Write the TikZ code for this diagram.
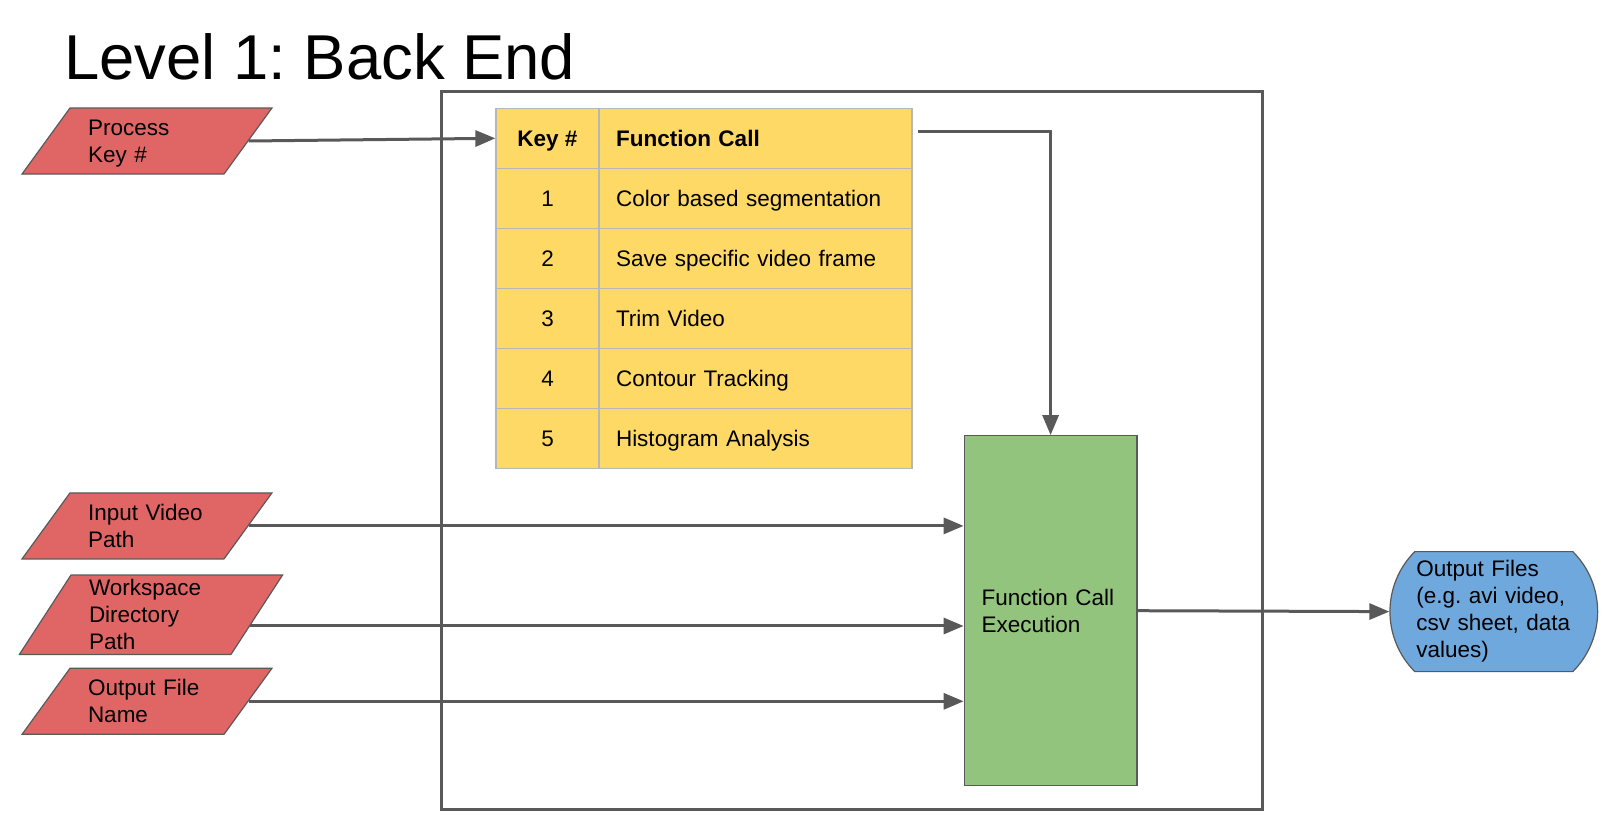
\documentclass[tikz,border=0pt]{standalone}
\usepackage{fontspec}
\setmainfont{Liberation Sans}
\usetikzlibrary{shapes.geometric,shapes.misc,arrows.meta,calc}
\frenchspacing

\definecolor{inred}{HTML}{E06666}
\definecolor{keyyellow}{HTML}{FFD966}
\definecolor{execgreen}{HTML}{93C47D}
\definecolor{outblue}{HTML}{6FA8DC}
\definecolor{edgegray}{HTML}{595959}
\definecolor{gridgray}{HTML}{B7B7B7}

\newcommand{\instrut}{\rule[-5.5pt]{0pt}{27pt}}

\begin{document}
\begin{tikzpicture}[x=1pt,y=-1pt,
  every node/.style={font=\fontsize{22.5}{27}\selectfont},
  indata/.style={trapezium, trapezium left angle=54, trapezium right angle=126,
    draw=edgegray, fill=inred, line width=1.2pt, inner xsep=18pt, inner ysep=6pt,
    text width=118pt, align=left, execute at begin node=\instrut, execute at end node=\instrut},
  cell/.style={draw=gridgray, fill=keyyellow, line width=1.2pt, minimum height=60pt,
    inner sep=0pt, text height=16.1pt, text depth=0pt},
  flow/.style={edgegray, line width=3pt, -{Triangle[length=20pt,width=16pt]}}]
 	\useasboundingbox (0,0) rectangle (1614,830);
 	\node[anchor=base west, inner sep=0pt, font=\fontsize{63.4}{70}\selectfont] (title) at (64,79.3) {Level 1: Back End};
 	\node[draw=edgegray, line width=3pt, minimum width=821.7pt, minimum height=717.3pt, inner sep=0pt] (backend) at (851.85,450.35) {};
 	\foreach \k/\fn [count=\r from 0] in {{\textbf{Key \#}}/{\textbf{Function Call}}, 1/Color based segmentation, 2/Save specific video frame, 3/Trim Video, 4/Contour Tracking, 5/Histogram Analysis} {
 	  \node[cell, minimum width=103pt] (key\r) at (547.5,{138.3+60*\r}) {\k};
 	  \node[cell, minimum width=313pt, text width=279pt, inner xsep=17pt, align=left] (fn\r) at (755.5,{138.3+60*\r}) {\fn};
 	}
 	\node[indata] (pkey) at (147,141) {Process\\Key \#};
 	\node[indata] (invid) at (147,525.9) {Input Video\\Path};
 	\node[indata, trapezium left angle=57, trapezium right angle=123, text width=124pt, inner ysep=-0.8pt] (wsdir) at (151,614.7) {Workspace\\Directory\\Path};
 	\node[indata] (outname) at (147,701.3) {Output File\\Name};
 	\node[draw=edgegray, fill=execgreen, line width=1.2pt, minimum width=172.7pt, minimum height=350pt, text width=138pt, inner xsep=17pt, align=left] (exec) at (1050.6,610.7) {Function Call\\Execution};
 	\node[rounded rectangle, rounded rectangle arc length=90, draw=edgegray, fill=outblue, line width=1.2pt, minimum width=207.7pt, minimum height=120pt, text width=155pt, inner xsep=0pt, align=left] (outfiles) at (1493.8,611.6) {Output Files\\(e.g. avi video,\\csv sheet, data\\values)};
 	\coordinate (wsout) at ($(wsdir.top right corner)!0.64!(wsdir.bottom right corner)$);
 	\draw[flow] (pkey.east) -- (key0.west);
 	\draw[flow] ([xshift=5pt,yshift=6.6pt]fn0.east) -| (exec.north);
 	\draw[flow] (invid.east) -- (invid.east -| exec.west);
 	\draw[flow] (wsout) -- (wsout -| exec.west);
 	\draw[flow] (outname.east) -- (outname.east -| exec.west);
 	\draw[flow] (exec.east) -- (outfiles.west);
\end{tikzpicture}
\end{document}
